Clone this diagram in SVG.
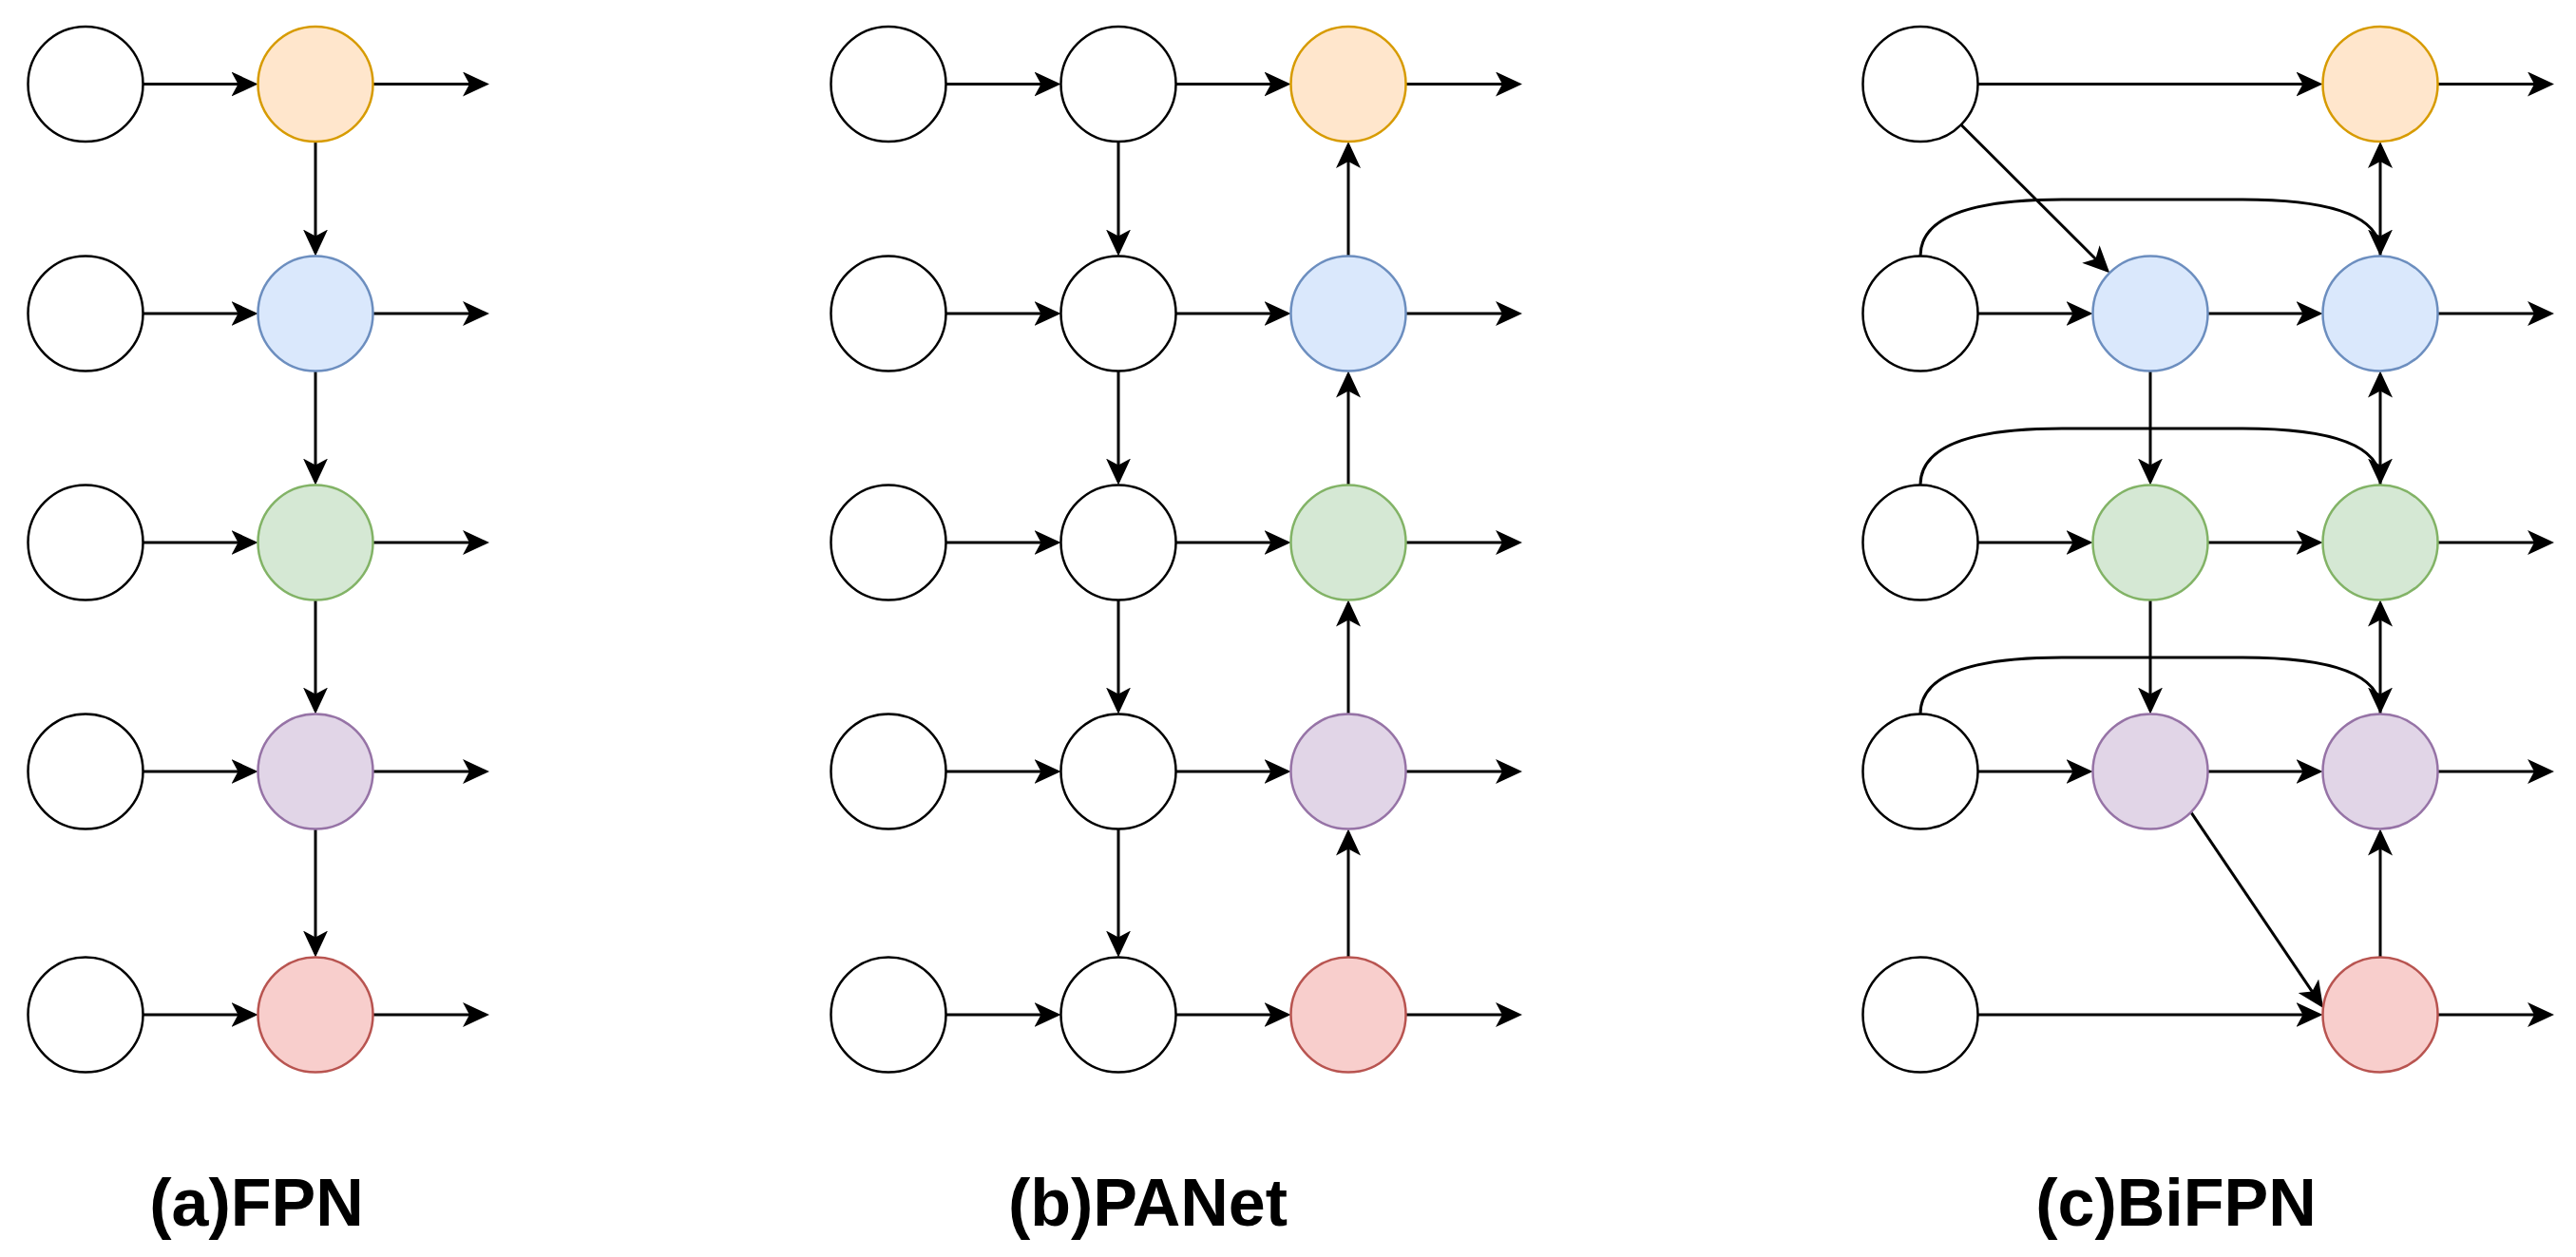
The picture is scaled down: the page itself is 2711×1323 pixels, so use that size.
<svg xmlns="http://www.w3.org/2000/svg" width="2711" height="1323" viewBox="0 0 2711 1323">
<style>
.n{stroke-width:2.5}
.w{fill:#ffffff;stroke:#000000}
.o{fill:#ffe6cc;stroke:#d79b00}
.b{fill:#dae8fc;stroke:#6c8ebf}
.g{fill:#d5e8d4;stroke:#82b366}
.p{fill:#e1d5e7;stroke:#9673a6}
.r{fill:#f8cecc;stroke:#b85450}
#edges path,#edges line{fill:none;stroke:#000000;stroke-width:3;marker-end:url(#arr)}
text{font-family:"Liberation Sans",Arial,sans-serif;font-weight:bold;font-size:70px;text-anchor:middle;fill:#000000}
</style>
<defs>
<marker id="arr" markerUnits="userSpaceOnUse" markerWidth="28" markerHeight="26" viewBox="0 0 28 26" refX="24" refY="13" orient="auto">
<path d="M0,0 L28,13 L0,26 L7,13 Z" fill="#000000"/>
</marker>
</defs>
<rect width="2711" height="1323" fill="#ffffff"/>
<g id="edges">
<!-- FPN -->
<line x1="150.5" y1="88.5" x2="267.5" y2="88.5"/>
<line x1="150.5" y1="330" x2="267.5" y2="330"/>
<line x1="150.5" y1="571" x2="267.5" y2="571"/>
<line x1="150.5" y1="812" x2="267.5" y2="812"/>
<line x1="150.5" y1="1068" x2="267.5" y2="1068"/>
<line x1="392.5" y1="88.5" x2="511" y2="88.5"/>
<line x1="392.5" y1="330" x2="511" y2="330"/>
<line x1="392.5" y1="571" x2="511" y2="571"/>
<line x1="392.5" y1="812" x2="511" y2="812"/>
<line x1="392.5" y1="1068" x2="511" y2="1068"/>
<line x1="332" y1="149" x2="332" y2="265.5"/>
<line x1="332" y1="390.5" x2="332" y2="506.5"/>
<line x1="332" y1="631.5" x2="332" y2="747.5"/>
<line x1="332" y1="872.5" x2="332" y2="1003.5"/>
<!-- PANet -->
<line x1="995.5" y1="88.5" x2="1112.5" y2="88.5"/>
<line x1="995.5" y1="330" x2="1112.5" y2="330"/>
<line x1="995.5" y1="571" x2="1112.5" y2="571"/>
<line x1="995.5" y1="812" x2="1112.5" y2="812"/>
<line x1="995.5" y1="1068" x2="1112.5" y2="1068"/>
<line x1="1237.5" y1="88.5" x2="1354.5" y2="88.5"/>
<line x1="1237.5" y1="330" x2="1354.5" y2="330"/>
<line x1="1237.5" y1="571" x2="1354.5" y2="571"/>
<line x1="1237.5" y1="812" x2="1354.5" y2="812"/>
<line x1="1237.5" y1="1068" x2="1354.5" y2="1068"/>
<line x1="1479.5" y1="88.5" x2="1598" y2="88.5"/>
<line x1="1479.5" y1="330" x2="1598" y2="330"/>
<line x1="1479.5" y1="571" x2="1598" y2="571"/>
<line x1="1479.5" y1="812" x2="1598" y2="812"/>
<line x1="1479.5" y1="1068" x2="1598" y2="1068"/>
<line x1="1177" y1="149" x2="1177" y2="265.5"/>
<line x1="1177" y1="390.5" x2="1177" y2="506.5"/>
<line x1="1177" y1="631.5" x2="1177" y2="747.5"/>
<line x1="1177" y1="872.5" x2="1177" y2="1003.5"/>
<line x1="1419" y1="269.5" x2="1419" y2="153"/>
<line x1="1419" y1="510.5" x2="1419" y2="394.5"/>
<line x1="1419" y1="751.5" x2="1419" y2="635.5"/>
<line x1="1419" y1="1007.5" x2="1419" y2="876.5"/>
<!-- BiFPN -->
<line x1="2081.5" y1="88.5" x2="2440.5" y2="88.5"/>
<line x1="2081.5" y1="330" x2="2198.5" y2="330"/>
<line x1="2081.5" y1="571" x2="2198.5" y2="571"/>
<line x1="2081.5" y1="812" x2="2198.5" y2="812"/>
<line x1="2081.5" y1="1068" x2="2440.5" y2="1068"/>
<line x1="2323.5" y1="330" x2="2440.5" y2="330"/>
<line x1="2323.5" y1="571" x2="2440.5" y2="571"/>
<line x1="2323.5" y1="812" x2="2440.5" y2="812"/>
<line x1="2565.5" y1="88.5" x2="2684" y2="88.5"/>
<line x1="2565.5" y1="330" x2="2684" y2="330"/>
<line x1="2565.5" y1="571" x2="2684" y2="571"/>
<line x1="2565.5" y1="812" x2="2684" y2="812"/>
<line x1="2565.5" y1="1068" x2="2684" y2="1068"/>
<line x1="2263" y1="390.5" x2="2263" y2="506.5"/>
<line x1="2263" y1="631.5" x2="2263" y2="747.5"/>
<line x1="2505" y1="269.5" x2="2505" y2="153"/>
<line x1="2505" y1="510.5" x2="2505" y2="394.5"/>
<line x1="2505" y1="751.5" x2="2505" y2="635.5"/>
<line x1="2505" y1="1007.5" x2="2505" y2="876.5"/>
<line x1="2063.8" y1="131.2" x2="2217.4" y2="284.5"/>
<line x1="2305.8" y1="854.8" x2="2442.8" y2="1057.7"/>
<path d="M2021,269.5 Q2021,210 2170,210 L2360,210 Q2505,210 2505,265.5"/>
<path d="M2021,510.5 Q2021,451 2170,451 L2360,451 Q2505,451 2505,506.5"/>
<path d="M2021,751.5 Q2021,692 2170,692 L2360,692 Q2505,692 2505,747.5"/>
</g>
<g id="fpn">
<circle id="fpn-c1r1" class="n w" cx="90" cy="88.5" r="60.5"/>
<circle id="fpn-c1r2" class="n w" cx="90" cy="330" r="60.5"/>
<circle id="fpn-c1r3" class="n w" cx="90" cy="571" r="60.5"/>
<circle id="fpn-c1r4" class="n w" cx="90" cy="812" r="60.5"/>
<circle id="fpn-c1r5" class="n w" cx="90" cy="1068" r="60.5"/>
<circle id="fpn-c2r1" class="n o" cx="332" cy="88.5" r="60.5"/>
<circle id="fpn-c2r2" class="n b" cx="332" cy="330" r="60.5"/>
<circle id="fpn-c2r3" class="n g" cx="332" cy="571" r="60.5"/>
<circle id="fpn-c2r4" class="n p" cx="332" cy="812" r="60.5"/>
<circle id="fpn-c2r5" class="n r" cx="332" cy="1068" r="60.5"/>
</g>
<g id="panet">
<circle id="pa-c1r1" class="n w" cx="935" cy="88.5" r="60.5"/>
<circle id="pa-c1r2" class="n w" cx="935" cy="330" r="60.5"/>
<circle id="pa-c1r3" class="n w" cx="935" cy="571" r="60.5"/>
<circle id="pa-c1r4" class="n w" cx="935" cy="812" r="60.5"/>
<circle id="pa-c1r5" class="n w" cx="935" cy="1068" r="60.5"/>
<circle id="pa-c2r1" class="n w" cx="1177" cy="88.5" r="60.5"/>
<circle id="pa-c2r2" class="n w" cx="1177" cy="330" r="60.5"/>
<circle id="pa-c2r3" class="n w" cx="1177" cy="571" r="60.5"/>
<circle id="pa-c2r4" class="n w" cx="1177" cy="812" r="60.5"/>
<circle id="pa-c2r5" class="n w" cx="1177" cy="1068" r="60.5"/>
<circle id="pa-c3r1" class="n o" cx="1419" cy="88.5" r="60.5"/>
<circle id="pa-c3r2" class="n b" cx="1419" cy="330" r="60.5"/>
<circle id="pa-c3r3" class="n g" cx="1419" cy="571" r="60.5"/>
<circle id="pa-c3r4" class="n p" cx="1419" cy="812" r="60.5"/>
<circle id="pa-c3r5" class="n r" cx="1419" cy="1068" r="60.5"/>
</g>
<g id="bifpn">
<circle id="bi-c1r1" class="n w" cx="2021" cy="88.5" r="60.5"/>
<circle id="bi-c1r2" class="n w" cx="2021" cy="330" r="60.5"/>
<circle id="bi-c1r3" class="n w" cx="2021" cy="571" r="60.5"/>
<circle id="bi-c1r4" class="n w" cx="2021" cy="812" r="60.5"/>
<circle id="bi-c1r5" class="n w" cx="2021" cy="1068" r="60.5"/>
<circle id="bi-c2r2" class="n b" cx="2263" cy="330" r="60.5"/>
<circle id="bi-c2r3" class="n g" cx="2263" cy="571" r="60.5"/>
<circle id="bi-c2r4" class="n p" cx="2263" cy="812" r="60.5"/>
<circle id="bi-c3r1" class="n o" cx="2505" cy="88.5" r="60.5"/>
<circle id="bi-c3r2" class="n b" cx="2505" cy="330" r="60.5"/>
<circle id="bi-c3r3" class="n g" cx="2505" cy="571" r="60.5"/>
<circle id="bi-c3r4" class="n p" cx="2505" cy="812" r="60.5"/>
<circle id="bi-c3r5" class="n r" cx="2505" cy="1068" r="60.5"/>
</g>
<g id="labels">
<text id="label-fpn" x="270" y="1290">(a)FPN</text>
<text id="label-panet" x="1208" y="1290">(b)PANet</text>
<text id="label-bifpn" x="2290" y="1290">(c)BiFPN</text>
</g>
</svg>
